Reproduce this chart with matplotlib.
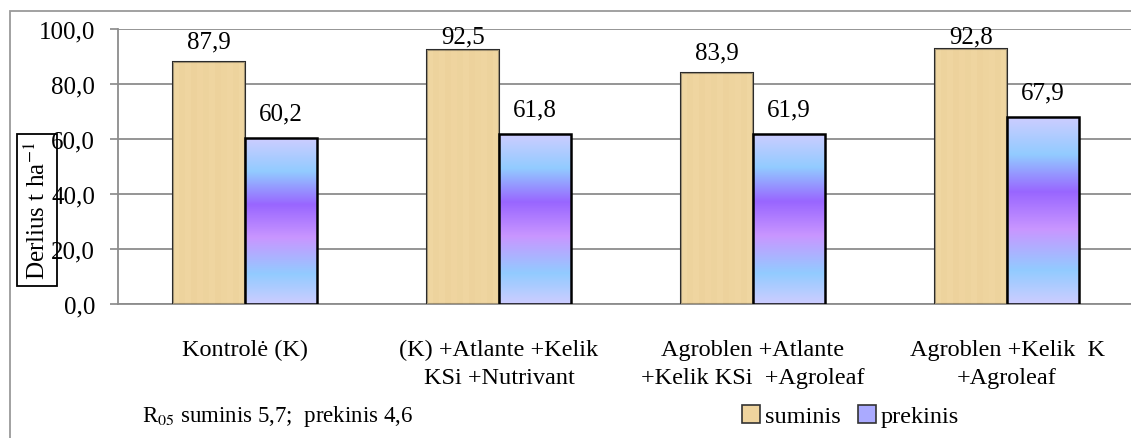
import numpy as np
import matplotlib
matplotlib.use("Agg")
import matplotlib.pyplot as plt
from matplotlib.patches import Patch, Rectangle
from matplotlib.colors import LinearSegmentedColormap

plt.rcParams["font.family"] = ["Liberation Serif", "DejaVu Serif"]
plt.rcParams["mathtext.fontset"] = "stix"

# duomenys
categories = ["Kontrolė (K)", "(K) +Atlante +Kelik\nKSi +Nutrivant",
              "Agroblen +Atlante\n+Kelik KSi  +Agroleaf", "Agroblen +Kelik  K\n+Agroleaf"]
suminis = [87.9, 92.5, 83.9, 92.8]
prekinis = [60.2, 61.8, 61.9, 67.9]
series_names = ["suminis", "prekinis"]
y_ticks = [0, 20, 40, 60, 80, 100]

fig = plt.figure(figsize=(11.31, 4.39), dpi=100)
ax = fig.add_axes([118 / 1131, 1 - 305 / 439, 1016 / 1131, 275 / 439])

x = np.arange(len(categories))
w = 0.283
sum_color = "#efd49e"
grad = LinearSegmentedColormap.from_list("prek", [
    (0.0, "#cdcdff"), (0.2, "#92cbff"), (0.4, "#9966ff"),
    (0.6, "#c996ff"), (0.82, "#92cbff"), (1.0, "#cdcdff")])

b1 = ax.bar(x - w / 2, suminis, w, color=sum_color, edgecolor="#2b2b2b", linewidth=1.5, zorder=3)
b2 = ax.bar(x + w / 2, prekinis, w, color="none", edgecolor="black", linewidth=1.8, zorder=4)

# gradientas kiekvienam prekinis stulpeliui
g = np.linspace(0, 1, 256).reshape(-1, 1)
for bar in b2:
    x0, y0 = bar.get_x(), bar.get_y()
    im = ax.imshow(g, cmap=grad, aspect="auto", zorder=3.5,
                   extent=(x0, x0 + bar.get_width(), y0, y0 + bar.get_height()))
    im.set_clip_path(bar)

# lengvas popieriaus rastas suminis stulpeliams
tex = np.array([[0.2, 0.5, 0.3, 0.6, 0.35, 0.5, 0.25, 0.55, 0.4, 0.3, 0.5, 0.2]])
paper = LinearSegmentedColormap.from_list("paper", ["#f3dba9", "#e8cc92"])
for bar in b1:
    x0, y0 = bar.get_x(), bar.get_y()
    im = ax.imshow(np.repeat(tex, 4, axis=0), cmap=paper, vmin=0, vmax=1, aspect="auto", zorder=3.2,
                   extent=(x0, x0 + bar.get_width(), y0, y0 + bar.get_height()), alpha=0.6)
    im.set_clip_path(bar)

for xi, v in zip(x, suminis):
    ax.text(xi - w / 2, min(v + 3.7, 93.4), f"{v:.1f}".replace(".", ","),
            ha="center", va="bottom", fontsize=18)
for xi, v in zip(x, prekinis):
    ax.text(xi + w / 2, v + 5.0, f"{v:.1f}".replace(".", ","),
            ha="center", va="bottom", fontsize=18)

ax.set_xlim(-0.5, len(categories) - 0.5)
ax.set_ylim(0, 100)
ax.set_yticks(y_ticks)
ax.set_yticklabels([f"{t:.1f}".replace(".", ",") for t in y_ticks], fontsize=18)
ax.set_xticks(x)
ax.set_xticklabels(categories, fontsize=17.5, linespacing=1.45)
ax.tick_params(axis="x", length=0, pad=25)
ax.tick_params(axis="y", length=5.5, color="#888888", width=1.2, pad=11)
ax.yaxis.grid(True, color="#8c8c8c", linewidth=1.3, zorder=0)
ax.set_axisbelow(True)
for s in ["top", "right"]:
    ax.spines[s].set_visible(False)
ax.spines["left"].set_color("#8c8c8c")
ax.spines["left"].set_linewidth(1.3)
ax.spines["bottom"].set_color("#8c8c8c")
ax.spines["bottom"].set_linewidth(1.3)

# y ašies pavadinimas rėmelyje
fig.text(37 / 1131, 1 - 211 / 439, "Derlius t ha$^{-1}$", rotation=90, ha="center", va="center",
         fontsize=18, bbox=dict(boxstyle="square,pad=0.3", facecolor="none", edgecolor="black", linewidth=1.3))

fig.text(142 / 1131, 1 - 417 / 439, "R$_{05}$ suminis 5,7;  prekinis 4,6", ha="left", va="center", fontsize=16.5)

handles = [Patch(facecolor=sum_color, edgecolor="#333333", linewidth=1.2),
           Patch(facecolor="#aaaaff", edgecolor="#333333", linewidth=1.2)]
fig.legend(handles, series_names, loc="center left", bbox_to_anchor=(730 / 1131, 1 - 417 / 439),
           ncol=2, frameon=False, fontsize=17.5, handlelength=0.75, handleheight=0.75,
           handletextpad=0.2, columnspacing=0.7, borderpad=0)

fig.patches.append(Rectangle((10 / 1131, -0.1), 1.2, 1.1 - 12 / 439, transform=fig.transFigure,
                             fill=False, edgecolor="#9a9a9a", linewidth=1.3))

fig.savefig("out.png", dpi=100)
